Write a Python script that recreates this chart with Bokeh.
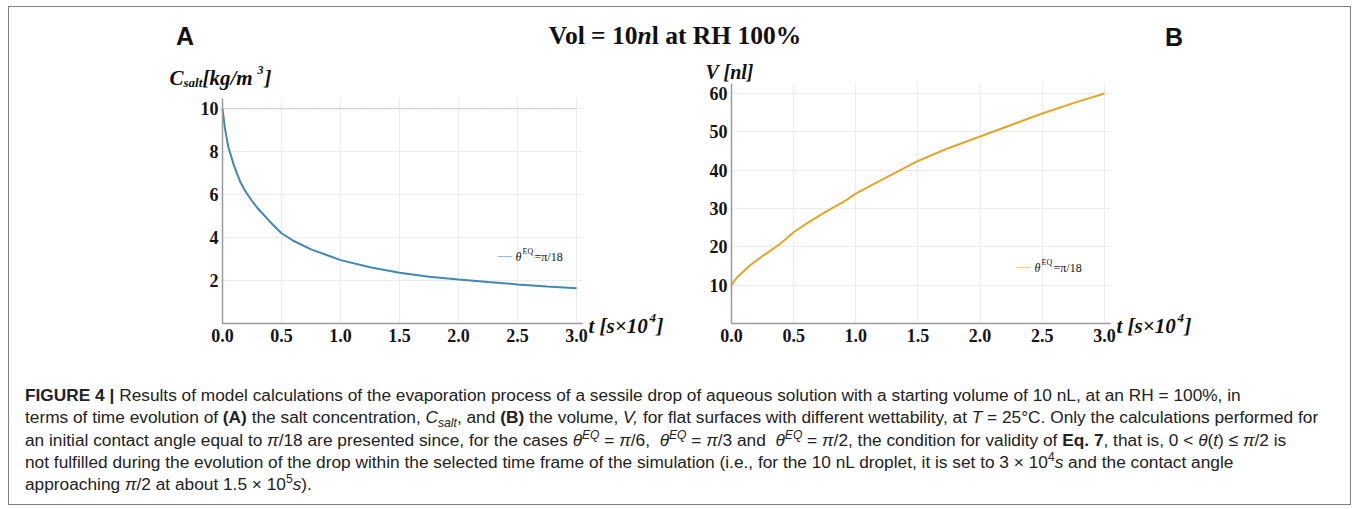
from bokeh.plotting import figure
from bokeh.models import Range1d, FixedTicker, Label, Div, LinearAxis, Grid
from bokeh.layouts import column, row
from bokeh.embed import file_html
from bokeh.resources import INLINE

# ---------------- data ----------------
t_c = [0, 0.02, 0.05, 0.1, 0.15, 0.2, 0.25, 0.3, 0.4, 0.5, 0.6, 0.75, 0.9,
       1.0, 1.25, 1.5, 1.75, 2.0, 2.25, 2.5, 2.75, 3.0]
c_salt = [10, 9.1, 8.2, 7.3, 6.6, 6.1, 5.7, 5.35, 4.75, 4.2, 3.85, 3.45, 3.15,
          2.95, 2.62, 2.36, 2.18, 2.05, 1.93, 1.82, 1.72, 1.64]

t_v = [0, 0.02, 0.05, 0.1, 0.15, 0.2, 0.25, 0.3, 0.4, 0.5, 0.6, 0.75, 0.9,
       1.0, 1.25, 1.5, 1.75, 2.0, 2.25, 2.5, 2.75, 3.0]
vol = [10, 11.0, 12.2, 13.7, 15.2, 16.4, 17.6, 18.7, 21.0, 23.8, 26.0, 29.0, 31.7,
       33.9, 38.2, 42.4, 45.8, 48.8, 51.8, 54.8, 57.5, 60.0]

x_ticks = [0, 0.5, 1.0, 1.5, 2.0, 2.5, 3.0]
x_tick_labels = ["0.0", "0.5", "1.0", "1.5", "2.0", "2.5", "3.0"]
yA_ticks = [2, 4, 6, 8, 10]
yB_ticks = [10, 20, 30, 40, 50, 60]
c_initial = 10

COL_A = "#4189b2"
COL_B = "#e0a62a"
AXIS_COL = "#9a9a9a"
GRID_COL = "#ececec"
SERIF = "Liberation Serif"

# ---------------- geometry (page pixels) ----------------
LEFT0, TOP0 = 9, 7            # page position of the content inside the border
HEADER_H = 53
FIG_TOP = TOP0 + HEADER_H     # 60
FIG_H = 320
CAP_H = 124
A_W, B_W = 679, 662
INNER_W = A_W + B_W

XMAX = 3.05
# panel A: x=0 at page 222, x-axis (y=0) at page 323
A_X0, A_Y0, A_SX, A_SY, A_YMAX = 222, 323, 118.03, 21.49, 10.47
# panel B: x=0 at page 731, x-axis (y=0) at page 323
B_X0, B_Y0, B_SX, B_SY, B_YMAX = 731, 323, 124.3, 3.833, 62.7


def ax(px): return (px - A_X0) / A_SX
def ay(py): return (A_Y0 - py) / A_SY
def bx(px): return (px - B_X0) / B_SX
def by(py): return (B_Y0 - py) / B_SY


HAS_CROSS = "cross_bounds" in Grid.properties()


def make_panel(width, left_px, fx, fy, ymax, yticks):
    p = figure(width=width, height=FIG_H, output_backend="svg", toolbar_location=None,
               x_range=Range1d(fx(left_px), fx(left_px + width)),
               y_range=Range1d(fy(FIG_TOP + FIG_H), fy(FIG_TOP)),
               x_axis_type=None, y_axis_type=None,
               min_border_left=0, min_border_right=0, min_border_top=0, min_border_bottom=0)
    p.outline_line_color = None
    p.background_fill_color = "white"
    p.border_fill_color = "white"
    p.xgrid.visible = False
    p.ygrid.visible = False
    xa = LinearAxis(fixed_location=0, bounds=(0, XMAX), ticker=FixedTicker(ticks=x_ticks),
                    major_label_overrides={k: v for k, v in zip(x_ticks, x_tick_labels)})
    ya = LinearAxis(fixed_location=0, bounds=(0, ymax), ticker=FixedTicker(ticks=yticks))
    for a in (xa, ya):
        a.axis_line_color = AXIS_COL
        a.axis_line_width = 1.5
        a.major_tick_in = 0
        a.major_tick_out = 0
        a.minor_tick_in = 0
        a.minor_tick_out = 0
        a.major_label_text_font = SERIF
        a.major_label_text_font_style = "bold"
        a.major_label_text_font_size = "18px"
        a.major_label_text_color = "#151515"
    xa.major_label_standoff = 5
    ya.major_label_standoff = 4
    p.add_layout(xa, "below")
    p.add_layout(ya, "left")
    if HAS_CROSS:
        gx = Grid(dimension=0, ticker=FixedTicker(ticks=x_ticks[1:]), grid_line_color=GRID_COL,
                  cross_bounds=(0, ymax))
        gy = Grid(dimension=1, ticker=FixedTicker(ticks=yticks), grid_line_color=GRID_COL,
                  cross_bounds=(0, XMAX))
        p.add_layout(gx)
        p.add_layout(gy)
    else:
        p.segment(x0=x_ticks[1:], y0=[0] * len(x_ticks[1:]), x1=x_ticks[1:],
                  y1=[ymax] * len(x_ticks[1:]), line_color=GRID_COL, level="underlay")
        p.segment(x0=[0] * len(yticks), y0=yticks, x1=[XMAX] * len(yticks), y1=yticks,
                  line_color=GRID_COL, level="underlay")
    return p


def lab(p, x, y, text, size="21px", style="bold italic", font=SERIF,
        color="#111111", align="left"):
    p.add_layout(Label(x=x, y=y, text=text, text_font=font, text_font_style=style,
                       text_font_size=size, text_color=color, text_align=align,
                       text_baseline="middle"))


def t_label(p, fx, fy, x0, yc):
    lab(p, fx(x0), fy(yc), "t [s×10")
    lab(p, fx(x0 + 61), fy(yc - 8), "4", size="13px")
    lab(p, fx(x0 + 68), fy(yc), "]")


# ---------------- panel A ----------------
pA = make_panel(A_W, LEFT0, ax, ay, A_YMAX, yA_ticks)
pA.line([t_c[0], t_c[-1]], [c_initial, c_initial], line_color="#a8a8a8",
        line_width=1.2, line_dash="1 2")
pA.line(t_c, c_salt, line_color=COL_A, line_width=2)

lab(pA, ax(169), ay(77), "C")
lab(pA, ax(183), ay(82), "salt", size="13px")
lab(pA, ax(202), ay(77), "[kg/m")
lab(pA, ax(257), ay(69), "3", size="12px")
lab(pA, ax(264), ay(77), "]")
t_label(pA, ax, ay, 588, 325)
lab(pA, ax(497), ay(255), "—", size="14px", style="normal", color=COL_A)
lab(pA, ax(515), ay(256), "θ", size="12px", style="italic")
lab(pA, ax(522), ay(251), "EQ", size="8px", style="normal")
lab(pA, ax(534), ay(256), "=π/18", size="12px", style="normal")

# ---------------- panel B ----------------
pB = make_panel(B_W, LEFT0 + A_W, bx, by, B_YMAX, yB_ticks)
pB.line(t_v, vol, line_color=COL_B, line_width=2)

lab(pB, bx(705), by(71), "V [nl]", size="20px")
t_label(pB, bx, by, 1116, 325)
lab(pB, bx(1016), by(266), "—", size="14px", style="normal", color=COL_B)
lab(pB, bx(1034), by(267), "θ", size="12px", style="italic")
lab(pB, bx(1041), by(262), "EQ", size="8px", style="normal")
lab(pB, bx(1053), by(267), "=π/18", size="12px", style="normal")

# ---------------- header ----------------
header_html = (
    '<div style="position:relative;width:%dpx;height:%dpx;">'
    '<span style="position:absolute;left:167px;top:17px;font-family:\'Liberation Sans\';'
    'font-weight:bold;font-size:25px;line-height:25px;color:#111;">A</span>'
    '<span style="position:absolute;left:516px;top:16px;width:300px;text-align:center;'
    'font-family:\'Liberation Serif\';font-weight:bold;font-size:25.5px;line-height:26px;'
    'color:#111;white-space:nowrap;">Vol = 10<i>n</i>l at RH 100%%</span>'
    '<span style="position:absolute;left:1156px;top:18px;font-family:\'Liberation Sans\';'
    'font-weight:bold;font-size:25px;line-height:25px;color:#111;">B</span>'
    '</div>'
) % (INNER_W, HEADER_H)
header = Div(text=header_html, width=INNER_W, height=HEADER_H, margin=(0, 0, 0, 0))

# ---------------- caption ----------------
sup = 'style="font-size:70%;vertical-align:super;line-height:0;"'
sub = 'style="font-size:70%;vertical-align:sub;line-height:0;"'
th = '<i>θ</i><sup %s><i>EQ</i></sup>' % sup
lines = [
    '<b>FIGURE 4 |</b> Results of model calculations of the evaporation process of a sessile drop '
    'of aqueous solution with a starting volume of 10 nL, at an RH = 100%, in',
    'terms of time evolution of <b>(A)</b> the salt concentration, <i>C</i><sub %s><i>salt</i></sub>, '
    'and <b>(B)</b> the volume, <i>V,</i> for flat surfaces with different wettability, at <i>T</i> = 25°C. '
    'Only the calculations performed for' % sub,
    'an initial contact angle equal to <i>π</i>/18 are presented since, for the cases %s = <i>π</i>/6,&nbsp; '
    '%s = <i>π</i>/3 and &nbsp;%s = <i>π</i>/2, the condition for validity of <b>Eq. 7</b>, that is, '
    '0 &lt; <i>θ</i>(<i>t</i>) ≤ <i>π</i>/2 is' % (th, th, th),
    'not fulfilled during the evolution of the drop within the selected time frame of the simulation '
    '(i.e., for the 10 nL droplet, it is set to 3 × 10<sup %s>4</sup><i>s</i> and the contact angle' % sup,
    'approaching <i>π</i>/2 at about 1.5 × 10<sup %s>5</sup><i>s</i>).' % sup,
]
caption_html = (
    '<div style="padding:4px 0 0 16px;font-family:\'Liberation Sans\';font-size:17.3px;'
    'line-height:22.3px;color:#222;white-space:nowrap;">' + '<br>'.join(lines) + '</div>'
)
caption = Div(text=caption_html, width=INNER_W, height=CAP_H, margin=(0, 0, 0, 0))

layout = column(header, row(pA, pB), caption, margin=(6, 0, 0, 8),
                styles={"border": "1px solid #808080"})

open("out.html", "w").write(file_html(layout, INLINE))
